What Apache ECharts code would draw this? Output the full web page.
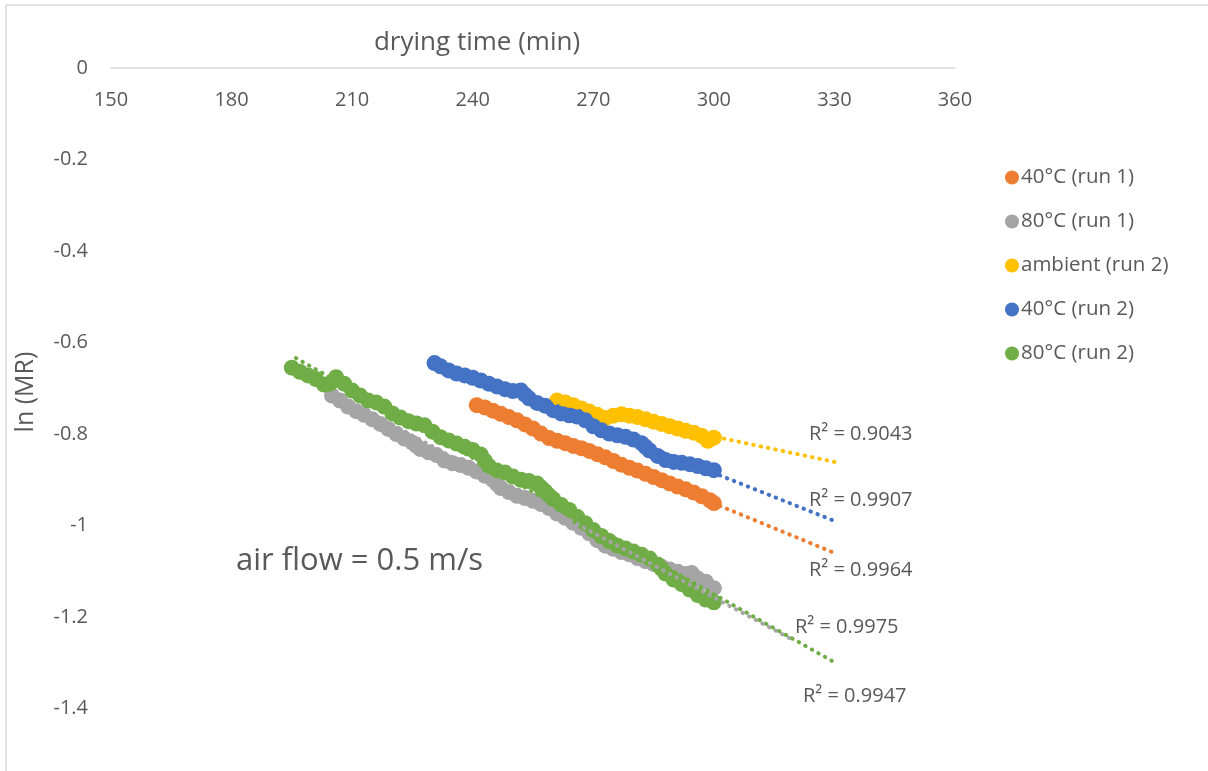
<!DOCTYPE html>
<html>
<head>
<meta charset="utf-8">
<style>
html,body{margin:0;padding:0;background:#fff;}
#chart{width:1208px;height:771px;}
</style>
<script src="https://cdn.jsdelivr.net/npm/echarts@6/dist/echarts.min.js"></script>
</head>
<body>
<div id="chart"></div>
<script>
// ---- data: [drying time (min), ln(MR)] ----
const seriesNames = ['40°C (run 1)', '80°C (run 1)', 'ambient (run 2)', '40°C (run 2)', '80°C (run 2)'];
const colors = ['#ED7D31', '#A5A5A5', '#FFC000', '#4472C4', '#70AD47'];

const run1_40 = [
  [241,-0.737],[243,-0.742],[245,-0.749],[247,-0.756],[249,-0.763],[251,-0.770],[253,-0.779],[255,-0.788],
  [257,-0.799],[259,-0.809],[261,-0.815],[263,-0.820],[265,-0.826],[267,-0.831],[269,-0.837],[271,-0.844],
  [273,-0.851],[275,-0.859],[277,-0.867],[279,-0.874],[281,-0.880],[283,-0.887],[285,-0.894],[287,-0.901],
  [289,-0.908],[291,-0.915],[293,-0.921],[295,-0.928],[297,-0.936],[299,-0.945],[300,-0.951]
];
const run1_80 = [
  [205,-0.716],[207,-0.727],[209,-0.740],[211,-0.750],[213,-0.758],[215,-0.768],[217,-0.778],[219,-0.789],
  [221,-0.800],[223,-0.810],[225,-0.819],[226,-0.826],[227,-0.833],[229,-0.840],[231,-0.846],[233,-0.858],[235,-0.864],
  [237,-0.868],[239,-0.874],[241,-0.882],[243,-0.891],[245,-0.900],[246,-0.909],[247,-0.918],[249,-0.927],[251,-0.935],
  [253,-0.940],[255,-0.946],[257,-0.953],[259,-0.962],[261,-0.974],[263,-0.983],[265,-0.994],[267,-1.005],
  [269,-1.017],[271,-1.032],[273,-1.044],[275,-1.051],[277,-1.058],[279,-1.063],[281,-1.071],[283,-1.078],
  [285,-1.084],[287,-1.090],[289,-1.096],[291,-1.101],[293,-1.106],[294.5,-1.104],[296,-1.116],[298,-1.123],[300,-1.137]
];
const run2_ambient = [
  [261,-0.727],[263,-0.731],[265,-0.737],[267,-0.744],[269,-0.751],[271,-0.758],[273,-0.765],[275,-0.760],
  [277,-0.757],[279,-0.760],[281,-0.763],[283,-0.768],[285,-0.773],[287,-0.778],[289,-0.783],[291,-0.788],
  [293,-0.793],[295,-0.797],[297,-0.804],[298.5,-0.815],[300,-0.808]
];
const run2_40 = [
  [230.5,-0.645],[232,-0.652],[234,-0.661],[236,-0.668],[238,-0.672],[240,-0.677],[242,-0.683],[244,-0.690],
  [246,-0.696],[248,-0.702],[250,-0.706],[252,-0.705],[253,-0.714],[254,-0.722],[256,-0.732],[258,-0.738],[260,-0.748],
  [262,-0.755],[264,-0.759],[266,-0.762],[268,-0.770],[270,-0.783],[272,-0.792],[274,-0.799],[276,-0.803],
  [278,-0.806],[280,-0.812],[282,-0.820],[283,-0.828],[284,-0.836],[286,-0.848],[288,-0.857],[290,-0.861],[292,-0.863],
  [294,-0.866],[296,-0.870],[298,-0.875],[300,-0.879]
];
const run2_80 = [
  [195,-0.655],[197,-0.664],[199,-0.672],[201,-0.680],[203,-0.692],[204.5,-0.690],[206,-0.676],[208,-0.690],
  [210,-0.705],[212,-0.716],[214,-0.727],[216,-0.731],[218,-0.740],[220,-0.755],[222,-0.764],[224,-0.772],
  [226,-0.777],[228,-0.781],[230,-0.795],[232,-0.807],[234,-0.814],[236,-0.821],[238,-0.828],[240,-0.835],
  [242,-0.845],[243,-0.858],[244,-0.870],[246,-0.880],[248,-0.884],[250,-0.893],[252,-0.900],[254,-0.903],[256,-0.908],
  [257,-0.917],[258,-0.925],[259,-0.934],[260,-0.942],[262,-0.955],[264,-0.966],[266,-0.981],[268,-0.995],[270,-1.010],[272,-1.023],
  [274,-1.034],[276,-1.044],[278,-1.050],[280,-1.057],[282,-1.064],[284,-1.072],[286,-1.085],[287,-1.095],[288,-1.105],
  [290,-1.118],[292,-1.128],[294,-1.140],[296,-1.152],[298,-1.162],[300,-1.168]
];

// linear trendlines (start, forecast end)
const trend_run1_40 = [[241.1,-0.739],[330,-1.060]];
const trend_run1_80 = [[205.2,-0.710],[319,-1.247]];
const trend_run2_ambient = [[260.5,-0.732],[330,-0.861]];
const trend_run2_40 = [[230.4,-0.642],[330,-0.990]];
const trend_run2_80 = [[196,-0.634],[330,-1.299]];

const r2Labels = ['R² = 0.9043', 'R² = 0.9907', 'R² = 0.9964', 'R² = 0.9975', 'R² = 0.9947'];
const xTicks = [150, 180, 210, 240, 270, 300, 330, 360];
const yTicks = [0, -0.2, -0.4, -0.6, -0.8, -1, -1.2, -1.4];

const FONT = '"Open Sans", "Noto Sans", sans-serif';
const TXT = '#595959';

const dataSets = [run1_40, run1_80, run2_ambient, run2_40, run2_80];
const trendSets = [trend_run1_40, trend_run1_80, trend_run2_ambient, trend_run2_40, trend_run2_80];

const scatterSeries = dataSets.map((d, i) => ({
  name: seriesNames[i],
  type: 'scatter',
  data: d,
  symbol: 'circle',
  symbolSize: 16,
  itemStyle: { color: colors[i], opacity: 1 },
  emphasis: { disabled: true },
  z: 2
}));
const trendSeries = trendSets.map((d, i) => ({
  name: 'trend ' + seriesNames[i],
  type: 'line',
  data: d,
  symbol: 'none',
  silent: true,
  lineStyle: { color: colors[i], width: 4, type: [0.5, 7], cap: 'round' },
  z: 3
}));

// R² label placement (pixel layout)
const r2Pos = [[809, 434], [809, 500], [809, 570], [795, 627], [803, 696]];

const chart = echarts.init(document.getElementById('chart'), null, { renderer: 'canvas' });
chart.setOption({
  animation: false,
  backgroundColor: '#fff',
  textStyle: { fontFamily: FONT },
  grid: { left: 111, top: 68, width: 844, height: 640.5, containLabel: false },
  xAxis: {
    type: 'value', position: 'top', min: xTicks[0], max: xTicks[xTicks.length - 1], interval: 30,
    axisLine: { show: true, onZero: false, lineStyle: { color: '#d9d9d9', width: 1.5 } },
    axisTick: { show: false },
    splitLine: { show: false },
    axisLabel: { inside: true, margin: 22, color: TXT, fontSize: 20, fontFamily: FONT }
  },
  yAxis: {
    type: 'value', min: yTicks[yTicks.length - 1], max: yTicks[0], interval: 0.2,
    axisLine: { show: false },
    axisTick: { show: false },
    splitLine: { show: false },
    axisLabel: { margin: 23, color: TXT, fontSize: 20, fontFamily: FONT,
      formatter: v => String(+(+v).toFixed(1)) }
  },
  legend: {
    data: seriesNames,
    orient: 'vertical',
    left: 1000, top: 162,
    itemWidth: 14, itemHeight: 14, itemGap: 23,
    icon: 'circle',
    textStyle: { color: TXT, fontSize: 20.5, fontFamily: FONT, lineHeight: 20, padding: [0, 0, 0, -3] }
  },
  graphic: [
    { type: 'line', shape: { x1: 6, y1: 5, x2: 1208, y2: 5 }, style: { stroke: '#d9d9d9', lineWidth: 1.5 }, silent: true },
    { type: 'line', shape: { x1: 6, y1: 5, x2: 6, y2: 771 }, style: { stroke: '#d9d9d9', lineWidth: 1.5 }, silent: true },
    { type: 'text', x: 477, y: 43, style: { text: 'drying time (min)', font: '26px ' + FONT, fill: TXT, align: 'center', verticalAlign: 'middle' } },
    { type: 'text', x: 26, y: 392, rotation: Math.PI / 2, style: { text: 'ln (MR)', font: '25px ' + FONT, fill: TXT, align: 'center', verticalAlign: 'middle' } },
    { type: 'text', x: 236, y: 561, style: { text: 'air flow = 0.5 m/s', font: '31px ' + FONT, fill: TXT, align: 'left', verticalAlign: 'middle' } }
  ].concat(r2Labels.map((t, i) => ({
    type: 'text', x: r2Pos[i][0], y: r2Pos[i][1], z: 10,
    style: { text: t, font: '20px ' + FONT, fill: TXT, align: 'left', verticalAlign: 'middle' }
  }))),
  series: scatterSeries.concat(trendSeries)
});
</script>
</body>
</html>
